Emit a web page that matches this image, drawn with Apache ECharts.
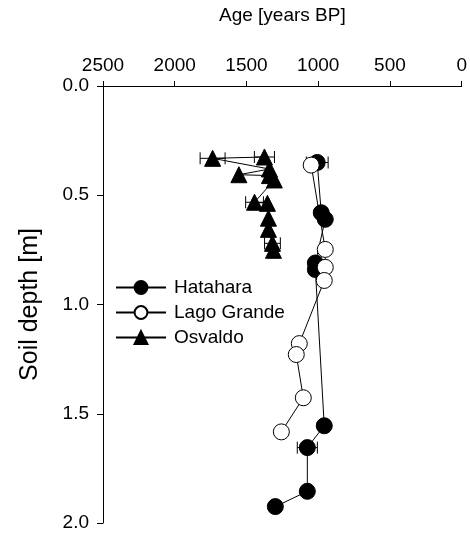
<!DOCTYPE html>
<html>
<head>
<meta charset="utf-8">
<script src="https://cdn.jsdelivr.net/npm/echarts@6/dist/echarts.min.js"></script>
<style>
  html, body { margin: 0; padding: 0; background: #fff; }
  #chart { width: 470px; height: 533px; }
</style>
</head>
<body>
<div id="chart"></div>
<script>
// Hatahara
const hatDepth = [0.35, 0.58, 0.61, 0.81, 0.84, 1.555, 1.655, 1.855, 1.925];
const hatAge = [1007, 979, 951, 1020, 1020, 958, 1076, 1076, 1299];
const hatErr = [76, 0, 0, 0, 0, 0, 70, 0, 0];

// Lago Grande
const lagDepth = [0.362, 0.748, 0.83, 0.89, 1.179, 1.229, 1.427, 1.583];
const lagAge = [1049, 951, 951, 958, 1132, 1153, 1104, 1257];
const lagErr = [0, 0, 0, 0, 0, 0, 0, 0];

// Osvaldo
const osvDepth = [0.325, 0.331, 0.38, 0.406, 0.41, 0.43, 0.532, 0.537, 0.605, 0.656, 0.72, 0.752];
const osvAge = [1375, 1736, 1340, 1553, 1340, 1306, 1444, 1354, 1347, 1347, 1319, 1312];
const osvErr = [70, 87, 0, 0, 0, 0, 62, 0, 0, 0, 55, 0];

const ageTicks = [0, 2500, 500];
const depthTicks = [0, 2, 0.5];

const chart = echarts.init(document.getElementById('chart'));

function points(age, depth) {
  return age.map((a, i) => [a, depth[i]]);
}

// horizontal error bars with caps
function errSeries(age, depth, err) {
  const data = [];
  age.forEach((a, i) => {
    if (err[i] > 0) data.push([a - err[i], a + err[i], depth[i]]);
  });
  return {
    type: 'custom',
    silent: true,
    z: 1,
    renderItem(params, api) {
      const p1 = api.coord([api.value(0), api.value(2)]);
      const p2 = api.coord([api.value(1), api.value(2)]);
      const h = 6;
      const st = { stroke: '#000', lineWidth: 1 };
      return {
        type: 'group',
        children: [
          { type: 'line', shape: { x1: p1[0], y1: p1[1], x2: p2[0], y2: p2[1] }, style: st },
          { type: 'line', shape: { x1: p1[0], y1: p1[1] - h, x2: p1[0], y2: p1[1] + h }, style: st },
          { type: 'line', shape: { x1: p2[0], y1: p2[1] - h, x2: p2[0], y2: p2[1] + h }, style: st }
        ]
      };
    },
    encode: { x: [0, 1], y: 2 },
    data: data
  };
}

function lineSeries(name, age, depth, symbol, fill) {
  return {
    name: name,
    type: 'line',
    z: 3,
    data: points(age, depth),
    symbol: symbol,
    symbolSize: 16,
    lineStyle: { color: '#000', width: 1 },
    itemStyle: { color: fill, borderColor: '#000', borderWidth: 1 },
    emphasis: { disabled: true }
  };
}

const font = 'Liberation Sans, Arial, sans-serif';

const option = {
  backgroundColor: '#fff',
  animation: false,
  textStyle: { fontFamily: font },
  grid: { left: 103, right: 7, top: 86, bottom: 10 },
  legend: {
    orient: 'vertical',
    left: 110,
    top: 273,
    itemWidth: 50,
    itemHeight: 16,
    itemGap: 6,
    textStyle: { fontSize: 19, color: '#000', fontFamily: font, padding: [0, 0, 0, 3] },
    data: ['Hatahara', 'Lago Grande', 'Osvaldo']
  },
  xAxis: {
    type: 'value',
    position: 'top',
    inverse: true,
    min: ageTicks[0],
    max: ageTicks[1],
    interval: ageTicks[2],
    name: 'Age [years BP]',
    nameLocation: 'middle',
    nameGap: 61,
    nameTextStyle: { fontSize: 19, color: '#000', fontFamily: font },
    axisLine: { show: true, onZero: false, lineStyle: { color: '#000', width: 1 } },
    axisTick: { show: true, length: 5, lineStyle: { color: '#000' } },
    axisLabel: { fontSize: 19, color: '#000', margin: 11, fontFamily: font, formatter: v => String(v) },
    splitLine: { show: false }
  },
  yAxis: {
    type: 'value',
    inverse: true,
    min: depthTicks[0],
    max: depthTicks[1],
    interval: depthTicks[2],
    name: 'Soil depth [m]',
    nameLocation: 'middle',
    nameGap: 60,
    nameTextStyle: { fontSize: 25, color: '#000', fontFamily: font },
    axisLine: { show: true, onZero: false, lineStyle: { color: '#000', width: 1 } },
    axisTick: { show: true, length: 6, lineStyle: { color: '#000' } },
    axisLabel: { fontSize: 19, color: '#000', margin: 14, fontFamily: font, formatter: v => v.toFixed(1) },
    splitLine: { show: false }
  },
  series: [
    errSeries(hatAge, hatDepth, hatErr),
    errSeries(lagAge, lagDepth, lagErr),
    errSeries(osvAge, osvDepth, osvErr),
    lineSeries('Hatahara', hatAge, hatDepth, 'circle', '#000'),
    lineSeries('Lago Grande', lagAge, lagDepth, 'circle', '#fff'),
    lineSeries('Osvaldo', osvAge, osvDepth, 'triangle', '#000')
  ]
};

chart.setOption(option);
</script>
</body>
</html>
